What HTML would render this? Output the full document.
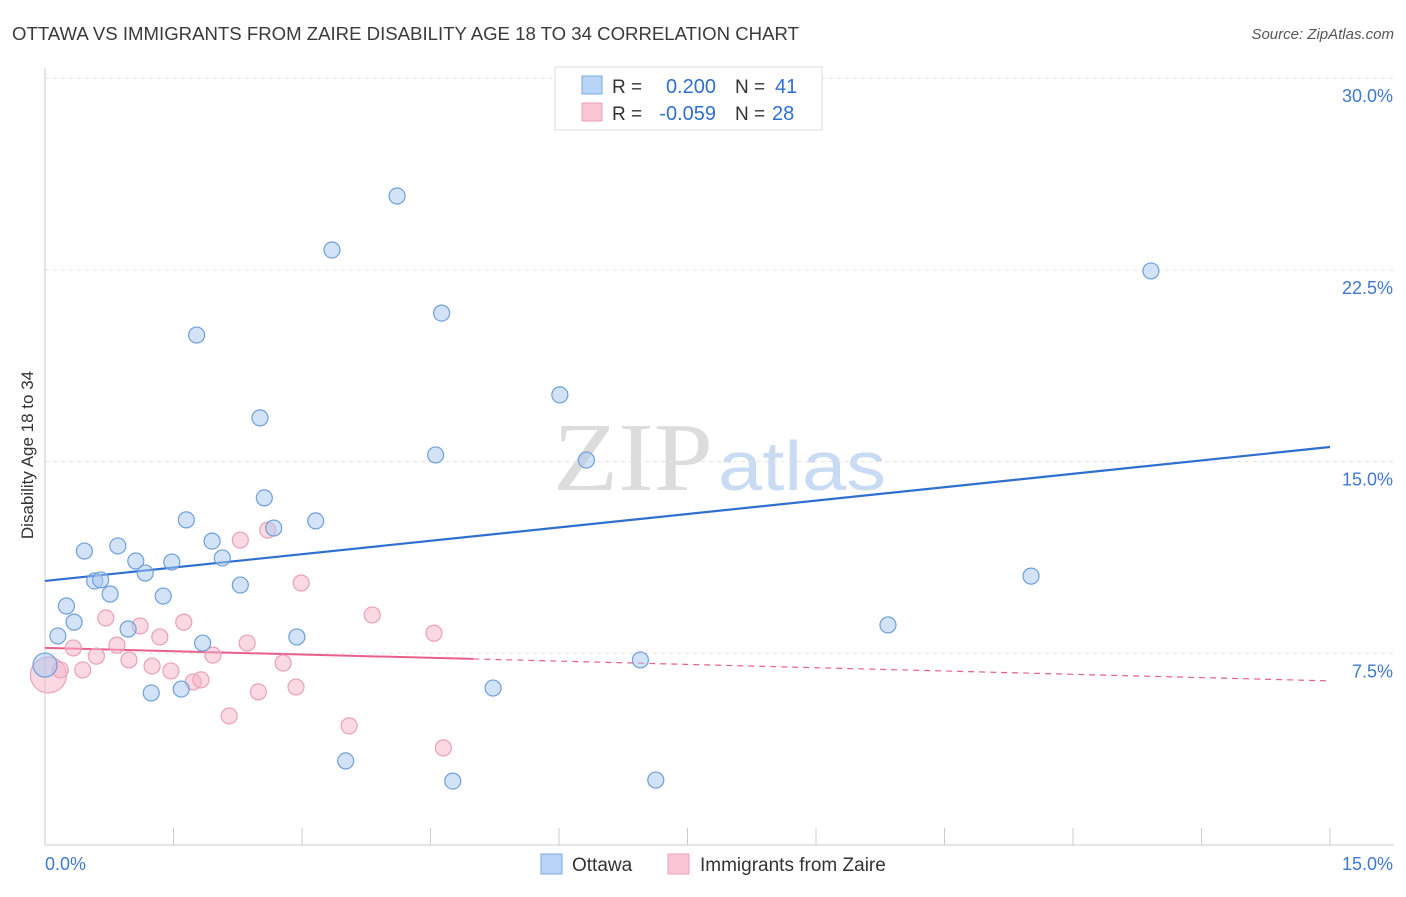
<!DOCTYPE html>
<html><head><meta charset="utf-8"><style>
body{margin:0;background:#fff;font-family:"Liberation Sans",sans-serif;}
svg text{font-family:"Liberation Sans",sans-serif;}
</style></head><body>
<svg id="chart" width="1406" height="892" xmlns="http://www.w3.org/2000/svg">
<text x="12" y="40" font-size="18.6" fill="#3a3a3a">OTTAWA VS IMMIGRANTS FROM ZAIRE DISABILITY AGE 18 TO 34 CORRELATION CHART</text>
<text x="1394" y="39" font-size="15" fill="#555" text-anchor="end" font-style="italic">Source: ZipAtlas.com</text>
<g>
<text x="553" y="490" font-size="98" fill="#dcdcdc" textLength="160" lengthAdjust="spacingAndGlyphs" style="font-family:'Liberation Serif',serif">ZIP</text>
<text x="718" y="490" font-size="70" fill="#c9dbf3" textLength="168" lengthAdjust="spacingAndGlyphs">atlas</text>
</g>
<g id="grid"></g>
<g id="axes"></g>
<g id="trends"></g>
<g id="points"></g>
<text transform="translate(33,455) rotate(-90)" font-size="17" fill="#333" text-anchor="middle">Disability Age 18 to 34</text>
<g>
<rect x="555" y="67" width="267" height="63" fill="#fff" stroke="#ddd"/>
<rect x="582" y="76" width="20" height="18" fill="#b8d4f6" stroke="#7aaae0"/>
<rect x="582" y="103" width="20" height="18" fill="#f9c6d4" stroke="#eba0b8"/>
<text x="612" y="93" font-size="19" fill="#333">R =</text>
<text x="716" y="93" font-size="20" fill="#2f6fd0" text-anchor="end">0.200</text>
<text x="735" y="93" font-size="19" fill="#333">N =</text>
<text x="775" y="93" font-size="20" fill="#2f6fd0">41</text>
<text x="612" y="120" font-size="19" fill="#333">R =</text>
<text x="716" y="120" font-size="20" fill="#2f6fd0" text-anchor="end">-0.059</text>
<text x="735" y="120" font-size="19" fill="#333">N =</text>
<text x="772" y="120" font-size="20" fill="#2f6fd0">28</text>
</g>
<g>
<rect x="541" y="854" width="21" height="20" fill="#b8d4f6" stroke="#7aaae0"/>
<text x="572" y="871" font-size="19" fill="#333">Ottawa</text>
<rect x="668" y="854" width="21" height="20" fill="#f9c6d4" stroke="#eba0b8"/>
<text x="700" y="871" font-size="19" fill="#333">Immigrants from Zaire</text>
</g>
</svg>
<script>
const blueX=[4.11,3.35,12.91,1.77,4.63,6.01,2.51,4.56,6.32,2.56,1.65,3.16,2.67,0.46,0.85,1.95,1.06,1.48,2.07,1.17,0.58,0.65,2.28,0.76,1.38,0.25,0.34,11.51,9.84,0.97,0.15,1.84,2.94,6.95,1.24,1.59,5.23,3.51,4.76,7.13,0.0];
const blueY=[25.39,23.28,22.46,19.95,20.81,17.61,16.71,15.26,15.06,13.58,12.72,12.68,12.40,11.50,11.70,11.89,11.11,11.07,11.23,10.64,10.33,10.37,10.17,9.82,9.74,9.35,8.72,10.52,8.61,8.45,8.18,7.90,8.14,7.24,5.95,6.10,6.14,3.29,2.50,2.54,7.04];
const pinkX=[0.04,0.18,0.33,0.44,0.60,0.71,0.84,0.98,1.11,1.25,1.34,1.47,1.62,1.73,1.82,1.96,2.15,2.28,2.36,2.49,2.60,2.78,2.93,2.99,3.55,3.82,4.54,4.65];
const pinkY=[6.65,6.85,7.71,6.85,7.39,8.88,7.82,7.24,8.57,7.00,8.14,6.81,8.72,6.38,6.46,7.43,5.05,11.93,7.90,5.99,12.32,7.12,6.18,10.25,4.66,9.00,8.29,3.80];
const yTicks=[7.5,15,22.5,30];
const yTickLabels=["7.5%","15.0%","22.5%","30.0%"];
const xTicks=[0,1.5,3,4.5,6,7.5,9,10.5,12,13.5,15];
const xEnds=["0.0%","15.0%"];
const blueTrend=[10.33,15.57];
const pinkTrend=[7.71,6.42];
const pinkSolidEnd=5.0;

const NS="http://www.w3.org/2000/svg";
const X=v=>45+v/15*1285;
const Y=v=>845-v/7.5*191.7;
function mk(tag,attrs,parent){const e=document.createElementNS(NS,tag);for(const k in attrs)e.setAttribute(k,attrs[k]);document.getElementById(parent).appendChild(e);return e;}
yTicks.forEach((t,i)=>{
 const g=mk('line',{x1:45,x2:1394,y1:Y(t),y2:Y(t),stroke:'#e2e2e2','stroke-dasharray':'4,4'},'grid');
 
 
 const l=mk('text',{x:1393,y:Y(t)+24,'font-size':18,fill:'#3f78d4','text-anchor':'end'},'grid');
 l.textContent=yTickLabels[i];
 
 
});
const ya=mk('line',{x1:45,x2:45,y1:68,y2:845,stroke:'#ccc'},'axes');


const xa=mk('line',{x1:45,x2:1394,y1:845,y2:845,stroke:'#ccc'},'axes');


xTicks.forEach(t=>{
 const k=mk('line',{x1:X(t),x2:X(t),y1:828,y2:845,stroke:'#ccc'},'axes');
 
 
});
[[0,45,'start'],[1,1393,'end']].forEach(([i,x,a])=>{
 const l=mk('text',{x:x,y:870,'font-size':18,fill:'#3f78d4','text-anchor':a},'axes');
 l.textContent=xEnds[i];
 
 
});
const bt=mk('line',{x1:X(0),x2:X(15),y1:Y(blueTrend[0]),y2:Y(blueTrend[1]),stroke:'#2f6fd0','stroke-width':2.2},'trends');


const pv=v=>pinkTrend[0]+(pinkTrend[1]-pinkTrend[0])*v/15;
const ps=mk('line',{x1:X(0),x2:X(pinkSolidEnd),y1:Y(pv(0)),y2:Y(pv(pinkSolidEnd)),stroke:'#e8608a','stroke-width':2},'trends');


const pd=mk('line',{x1:X(pinkSolidEnd),x2:X(15),y1:Y(pv(pinkSolidEnd)),y2:Y(pv(15)),stroke:'#e8608a','stroke-width':1.2,'stroke-dasharray':'6,5'},'trends');


pinkX.forEach((x,i)=>{
 const c=mk('circle',{cx:X(x),cy:Y(pinkY[i]),r:i===0?18:8,fill:'rgba(246,180,200,0.5)',stroke:'#eba0b8','stroke-width':1.2},'points');
 
 
});
blueX.forEach((x,i)=>{
 const c=mk('circle',{cx:X(x),cy:Y(blueY[i]),r:i===blueX.length-1?12:8,fill:'rgba(168,200,240,0.5)',stroke:'#6d9fdb','stroke-width':1.2},'points');
 
 
});
</script>
</body></html>
